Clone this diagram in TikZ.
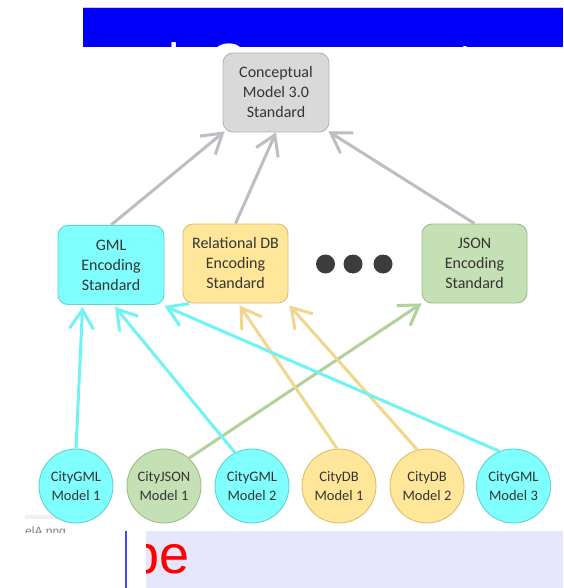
\documentclass[tikz,border=0pt]{standalone}
\usepackage{fontspec}
\setmainfont{Carlito}
\newfontfamily\arialf{Liberation Sans}
\usetikzlibrary{arrows.meta,calc}
\definecolor{txt}{RGB}{52,52,52}
\definecolor{bandblue}{RGB}{0,0,250}
\definecolor{bandedge}{RGB}{200,200,240}
\definecolor{lav}{RGB}{230,230,252}
\definecolor{vline}{RGB}{70,70,255}
\definecolor{grayfill}{RGB}{217,217,217}
\definecolor{grayedge}{RGB}{180,180,180}
\definecolor{cyanfill}{RGB}{128,255,255}
\definecolor{cyanedge}{RGB}{95,210,210}
\definecolor{yelfill}{RGB}{255,230,153}
\definecolor{yeledge}{RGB}{220,190,110}
\definecolor{grnfill}{RGB}{197,224,180}
\definecolor{grnedge}{RGB}{155,190,135}
\definecolor{arrgray}{RGB}{188,190,194}
\definecolor{arrcyan}{RGB}{112,243,243}
\definecolor{arryel}{RGB}{242,214,140}
\definecolor{arrgrn}{RGB}{176,208,156}
\definecolor{dotgray}{RGB}{60,60,60}
\tikzset{
  stdbox/.style={rectangle, rounded corners=10pt, minimum width=106pt, minimum height=79pt,
    inner sep=0pt, align=center, text=txt, font=\fontsize{16}{20}\selectfont, line width=0.9pt},
  modelcirc/.style={circle, minimum size=74pt, inner sep=0pt, align=center, text=txt,
    font=\fontsize{14.5}{19}\selectfont, line width=0.9pt},
  grayc/.style={fill=grayfill, draw=grayedge},
  cyanc/.style={fill=cyanfill, draw=cyanedge},
  yelc/.style={fill=yelfill, draw=yeledge},
  grnc/.style={fill=grnfill, draw=grnedge},
  bigdot/.style={circle, fill=dotgray, minimum size=19pt, inner sep=0pt},
  arrbase/.style={line width=3pt, -{Straight Barb[length=19pt,width=24pt]}},
  garr/.style={arrbase, draw=arrgray},
  carr/.style={arrbase, draw=arrcyan},
  yarr/.style={arrbase, draw=arryel},
  grarr/.style={arrbase, draw=arrgrn},
}
\begin{document}
\begin{tikzpicture}[x=1pt,y=-1pt]
\useasboundingbox (0,0) rectangle (563,588);
\fill[white] (0,0) rectangle (563,588);
% top band
\fill[bandblue] (83,8) rectangle (563,47);
\draw[bandedge, line width=1pt] (83,7.5) -- (563,7.5);
\begin{scope}
  \clip (83,8) rectangle (563,47);
  \node[anchor=base west, text=white, font=\arialf\fontsize{51}{51}\selectfont, inner sep=0pt]
    (ttl) at (168.5,80) {l\hspace{29.5pt}Component};
\end{scope}
% bottom band
\fill[lav] (146,531) rectangle (563,588);
\draw[vline, line width=2pt] (126,531) -- (126,588);
\begin{scope}
  \clip (146,531) rectangle (563,588);
  \node[anchor=base west, text=red, font=\arialf\fontsize{54}{54}\selectfont, inner sep=0pt]
    (be) at (129,573) {be};
\end{scope}
\fill[gray!12] (25,515) rectangle (72,519);
\begin{scope}
  \clip (0,505) rectangle (100,532.5);
  \node[anchor=base west, text=gray, font=\arialf\fontsize{12}{12}\selectfont, inner sep=0pt]
    (fname) at (25,535) {elA.png};
\end{scope}
% nodes
\node[stdbox, grayc] (cm) at (276,92.5) {Conceptual\\Model 3.0\\Standard};
\node[stdbox, cyanc] (gml) at (111,265) {GML\\Encoding\\Standard};
\node[stdbox, yelc, minimum width=105pt] (rdb) at (235.5,263.5) {Relational DB\\Encoding\\Standard};
\node[stdbox, grnc, minimum width=105pt] (json) at (474.5,263.5) {JSON\\Encoding\\Standard};
\node[bigdot] (d1) at (325.5,264) {};
\node[bigdot] (d2) at (353,264) {};
\node[bigdot] (d3) at (383,264) {};
\node[modelcirc, cyanc] (cg1) at (76,486) {CityGML\\Model 1};
\node[modelcirc, grnc] (cj) at (164,486) {CityJSON\\Model 1};
\node[modelcirc, cyanc] (cg2) at (252,486) {CityGML\\Model 2};
\node[modelcirc, yelc] (cd1) at (339,486) {CityDB\\Model 1};
\node[modelcirc, yelc] (cd2) at (427,486) {CityDB\\Model 2};
\node[modelcirc, cyanc] (cg3) at (513.5,486) {CityGML\\Model 3};
% gray arrows
\draw[garr] (gml.north) -- ($(cm.south west)+(2,-1)$);
\draw[garr] (rdb.north) -- (cm.south);
\draw[garr] (json.north) -- ($(cm.south east)+(-1,-1)$);
% colored arrows
\draw[grarr] (cj.48) -- ($(json.south west)+(0,0)$);
\draw[yarr] (cd1.93) -- ($(rdb.south)+(4,2)$);
\draw[yarr] (cd2.105) -- ($(rdb.south east)+(1,2)$);
\draw[carr] (cg1.90) -- ($(gml.south west)+(25,2)$);
\draw[carr] (cg2.117) -- ($(gml.south)+(4,2)$);
\draw[carr] (cg3.112) -- ($(gml.south east)+(0,1)$);
\end{tikzpicture}
\end{document}
